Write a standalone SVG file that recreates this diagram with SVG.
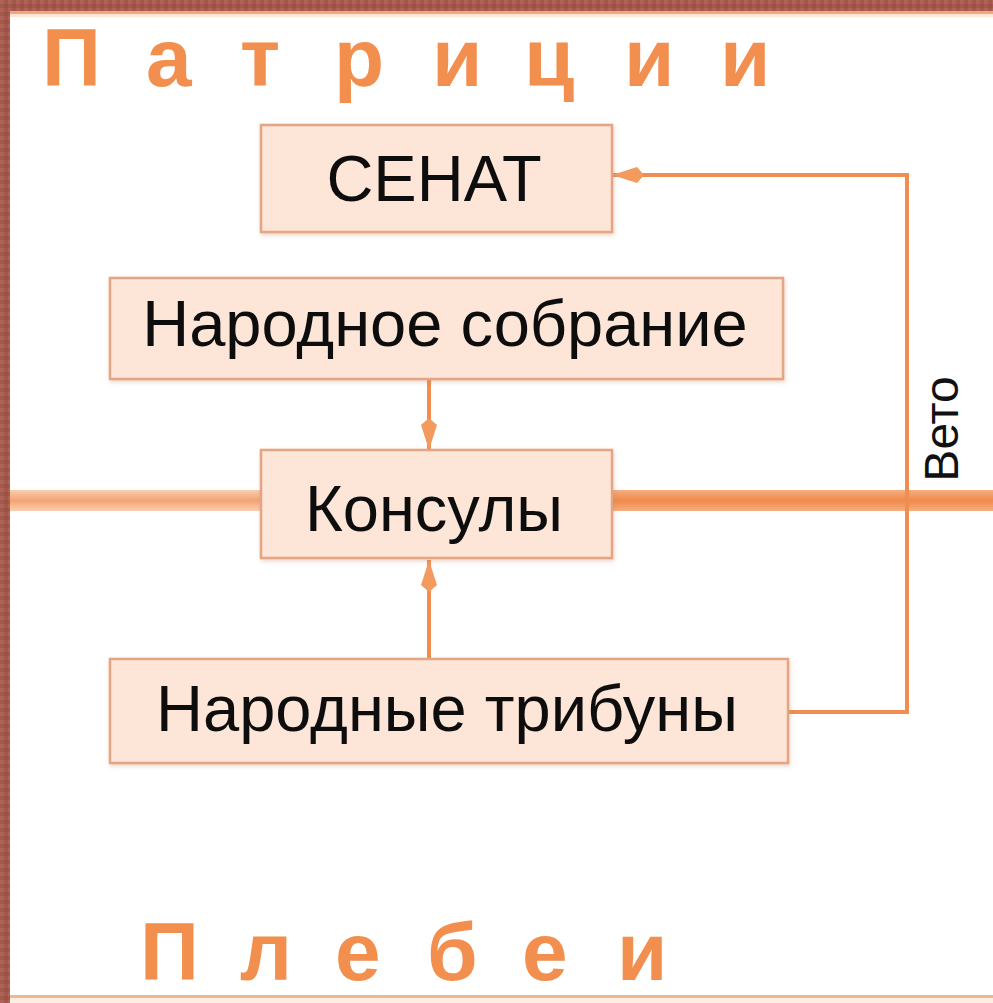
<svg xmlns="http://www.w3.org/2000/svg" width="993" height="1003" viewBox="0 0 993 1003">
<defs>
<style>
.box{fill:#fde5d8;stroke:#e4a582;stroke-width:2.5}
.lbl{font-family:"Liberation Sans",Arial,sans-serif;font-size:65px;fill:#111;text-anchor:middle}
.title{font-family:"Liberation Sans",Arial,sans-serif;font-weight:bold;font-size:82px;fill:#f28f4e}
.conn{fill:none;stroke:#f08d4f;stroke-width:4}
</style>
<pattern id="tex" width="8" height="8" patternUnits="userSpaceOnUse">
<rect width="8" height="8" fill="#a4584c"/>
<rect width="4" height="4" fill="#ad6356"/>
<rect x="4" y="4" width="4" height="4" fill="#9c5145"/>
</pattern>
<linearGradient id="bandL" x1="0" y1="0" x2="0" y2="1">
<stop offset="0" stop-color="#f8cfb0"/>
<stop offset="0.5" stop-color="#f3a473"/>
<stop offset="1" stop-color="#f8cfb0"/>
</linearGradient>
<linearGradient id="bandR" x1="0" y1="0" x2="0" y2="1">
<stop offset="0" stop-color="#f5ae82"/>
<stop offset="0.5" stop-color="#f08a4a"/>
<stop offset="1" stop-color="#f5ae82"/>
</linearGradient>
<filter id="sh" x="-5%" y="-5%" width="110%" height="120%">
<feDropShadow dx="1" dy="2" stdDeviation="2" flood-color="#c08060" flood-opacity="0.35"/>
</filter>
<marker id="ah" viewBox="0 0 32 16" refX="32" refY="8" markerWidth="32" markerHeight="16" markerUnits="userSpaceOnUse" orient="auto">
<path d="M0,8 L7,0 L32,8 L7,16 Z" fill="#f39a5e"/>
</marker>
</defs>
<rect width="993" height="1003" fill="#ffffff"/>
<rect x="0" y="0" width="993" height="11" fill="url(#tex)"/>
<rect x="0" y="0" width="10" height="1003" fill="url(#tex)"/>
<rect x="10" y="11" width="983" height="3" fill="#f2a878"/>
<rect x="10" y="14" width="983" height="3" fill="#fde6d6"/>
<rect x="10" y="995" width="983" height="3" fill="#f0b890"/>
<rect x="10" y="998" width="983" height="5" fill="#fbeee4"/>

<g id="bands">
<rect x="10" y="490" width="252" height="21" fill="url(#bandL)"/>
<rect x="610" y="490" width="383" height="21" fill="url(#bandR)"/>
</g>

<g id="connectors">
<line class="conn" x1="429" y1="380" x2="429" y2="450" marker-end="url(#ah)"/>
<line class="conn" x1="429" y1="658" x2="429" y2="560" marker-end="url(#ah)"/>
<polyline class="conn" points="788,712 907,712 907,175 612,175" marker-end="url(#ah)"/>
</g>

<g id="title-patricii">
<text class="title" x="42 146 240 334 432 524 624 720" y="86">Патриции</text>
</g>

<g id="senat" filter="url(#sh)">
<rect class="box" x="261" y="125" width="351" height="107"/>
<text class="lbl" x="434" y="201">СЕНАТ</text>
</g>

<g id="narodnoe-sobranie" filter="url(#sh)">
<rect class="box" x="110" y="278" width="673" height="101"/>
<text class="lbl" x="445" y="346">Народное собрание</text>
</g>

<g id="konsuly" filter="url(#sh)">
<rect class="box" x="261" y="450" width="351" height="108"/>
<text class="lbl" x="434" y="531">Консулы</text>
</g>

<g id="narodnye-tribuny" filter="url(#sh)">
<rect class="box" x="110" y="659" width="678" height="104"/>
<text class="lbl" x="447" y="731">Народные трибуны</text>
</g>

<g id="veto-label">
<text x="0" y="0" transform="translate(958,429) rotate(-90)" font-family="Liberation Sans, Arial, sans-serif" font-size="48" fill="#111" text-anchor="middle">Вето</text>
</g>

<g id="title-plebei">
<text class="title" x="140 240 335 427 522 617" y="980">Плебеи</text>
</g>
</svg>
